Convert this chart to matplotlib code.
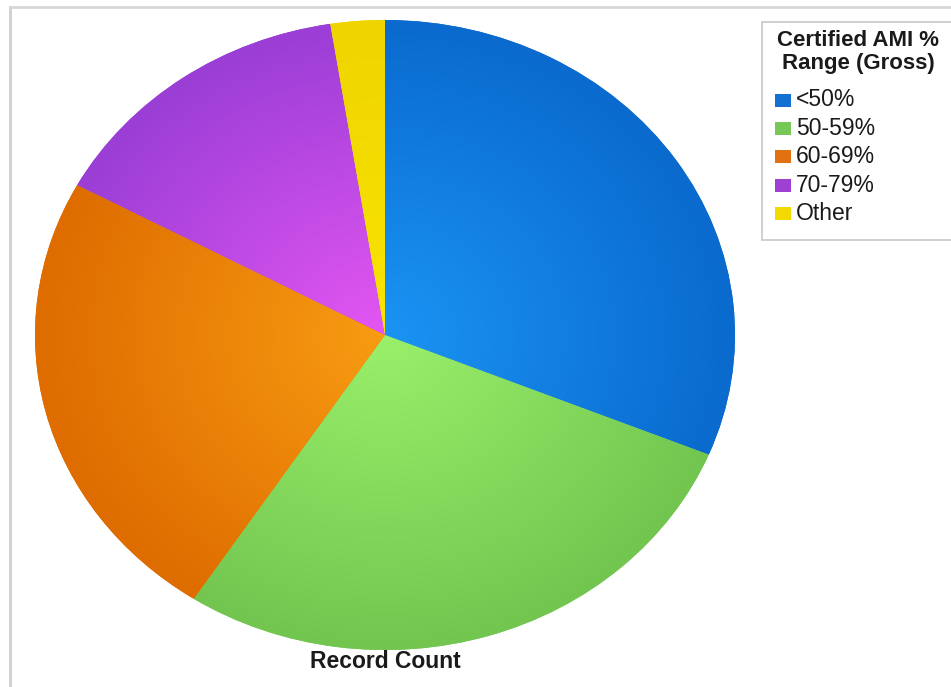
import numpy as np
import matplotlib
matplotlib.use("Agg")
import matplotlib.pyplot as plt
from matplotlib.colors import to_rgb
from matplotlib.patches import Rectangle
from matplotlib.lines import Line2D

plt.rcParams['font.family'] = ['Liberation Sans', 'DejaVu Sans']

# data (share of records per AMI range)
labels = ["<50%", "50-59%", "60-69%", "70-79%", "Other"]
counts = [31.2, 28.0, 23.7, 14.6, 2.5]
inner_colors = ["#1a94f4", "#9af06a", "#f89c12", "#e456f2", "#f8e400"]
outer_colors = ["#0a6ace", "#72c650", "#de6c00", "#9a3ed6", "#f0d400"]
legend_colors = ["#1170d2", "#78c858", "#e07010", "#a040d2", "#f2da00"]
legend_title = "Certified AMI %\nRange (Gross)"
chart_label = "Record Count"

W, H = 951, 687
fig = plt.figure(figsize=(W / 100, H / 100), dpi=100)


def fx(px):
    return px / W


def fy(py):
    return 1 - py / H


# outer frame of the chart area
fig.add_artist(Line2D([fx(10), fx(10)], [fy(7), 0], color="#cfcfcf", lw=2))
fig.add_artist(Line2D([fx(10), 1], [fy(7), fy(7)], color="#d6d6d6", lw=2))

# pie is drawn slightly wider than tall, like the original
ax = fig.add_axes([fx(35), fy(650), fx(700), 630 / H])
wedges, _ = ax.pie(counts, startangle=90, counterclock=False, radius=1,
                   colors=outer_colors, wedgeprops=dict(linewidth=0))

# radial shading: lighter at centre, darker at rim
yy, xx = np.mgrid[-1:1:500j, -1:1:500j]
r = np.clip(np.hypot(xx, yy), 0, 1)[..., None]
for w, c0, c1 in zip(wedges, inner_colors, outer_colors):
    c0 = np.array(to_rgb(c0))
    c1 = np.array(to_rgb(c1))
    img = c0 + (c1 - c0) * r
    im = ax.imshow(img, extent=(-1, 1, -1, 1), origin="lower",
                   interpolation="bilinear", aspect="auto", zorder=w.get_zorder() + 0.1)
    im.set_clip_path(w)

ax.set_aspect("auto")
ax.set_xlim(-1.0, 1.0)
ax.set_ylim(-1.0, 1.0)
ax.axis("off")

fig.text(fx(385), fy(661), chart_label, ha="center", va="center",
         fontsize=16.5, fontweight="bold", color="#1a1a1a")

# legend box
fig.add_artist(Rectangle((fx(762), fy(240)), fx(W + 20 - 762), (240 - 22) / H,
                         transform=fig.transFigure, facecolor="white",
                         edgecolor="#c8c8c8", lw=1.2))
fig.text(fx(858), fy(52), legend_title, ha="center", va="center",
         fontsize=16, fontweight="bold", color="#1a1a1a", linespacing=1.1)
for i, (lab, col) in enumerate(zip(labels, legend_colors)):
    yc = 100 + i * 28.4
    fig.add_artist(Rectangle((fx(775), fy(yc + 6.5)), fx(16), 13 / H,
                             transform=fig.transFigure, facecolor=col, lw=0))
    fig.text(fx(796), fy(yc), lab, ha="left", va="center",
             fontsize=16.5, color="#1a1a1a")

fig.savefig("out.png", dpi=100)
